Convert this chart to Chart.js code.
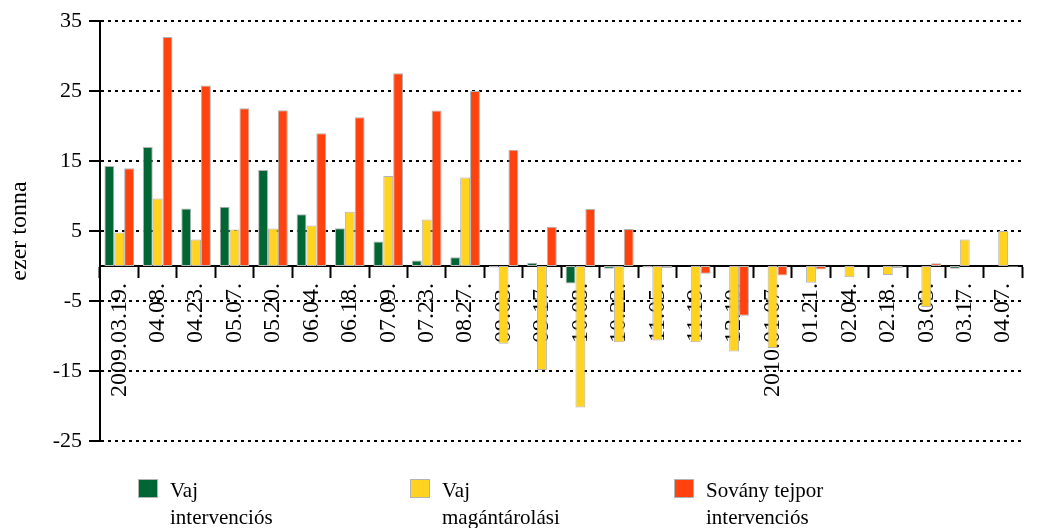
<!DOCTYPE html>
<html lang="hu">
<head>
<meta charset="utf-8">
<title>Intervenciós és magántárolási készletek</title>
<script src="https://cdn.jsdelivr.net/npm/chart.js@4.4.1/dist/chart.umd.min.js"></script>
<style>
  html, body { margin: 0; padding: 0; background: #fff; }
  #wrap { position: relative; width: 1038px; height: 528px; overflow: hidden; }
  #chart { position: absolute; left: 0; top: 0; }
  .lg { position: absolute; top: 477px; font: 21px "Liberation Serif", "Times New Roman", serif; line-height: 27px; color: #000; white-space: nowrap; }
  .lg i { position: absolute; left: -32px; top: 2px; width: 20px; height: 19px; box-sizing: border-box; border: 1px solid #b3b3b3; }
</style>
</head>
<body>
<div id="wrap">
  <canvas id="chart" width="1038" height="528"></canvas>
  <div class="lg" style="left:170px"><i style="background:#006633"></i>Vaj<br>intervenciós</div>
  <div class="lg" style="left:442px"><i style="background:#ffd320"></i>Vaj<br>magántárolási</div>
  <div class="lg" style="left:706px"><i style="background:#ff420e"></i>Sovány tejpor<br>intervenciós</div>
</div>
<script>
/* Vaj és sovány tejpor készletváltozás (ezer tonna), kéthetes bontásban */

const LABELS = [
  "2009.03.19.", "04.08.", "04.23.", "05.07.", "05.20.", "06.04.", "06.18.", "07.09.",
  "07.23.", "08.27.", "09.03.", "09.17.", "10.08.", "10.22.", "11.05.", "11.19.",
  "12.10.", "2010.01.07.", "01.21.", "02.04.", "02.18.", "03.03.", "03.17.", "04.07.",
];

// ezer tonna
const VAJ_INTERVENCIOS = [
  14.3, 17.0, 8.2, 8.45, 13.7, 7.4, 5.4, 3.5,
  0.8, 1.25, -0.2, 0.45, -2.5, -0.4, -0.2, 0,
  0, 0, 0, 0, 0, 0, -0.4, 0,
];
const VAJ_MAGANTAROLASI = [
  4.8, 9.65, 3.8, 5.2, 5.35, 5.8, 7.75, 12.85,
  6.65, 12.65, -11.1, -14.85, -20.2, -10.9, -10.65, -10.9,
  -12.2, -11.7, -2.4, -1.6, -1.3, -5.85, 3.8, 5.0,
];
const SOVANY_TEJPOR = [
  13.95, 32.7, 25.8, 22.55, 22.25, 18.95, 21.25, 27.55,
  22.2, 25.0, 16.6, 5.6, 8.15, 5.3, -0.3, -1.1,
  -7.1, -1.35, -0.5, 0, -0.3, 0.4, 0, -0.1,
];

const Y_MIN = -25;
const Y_MAX = 35;
const Y_STEP = 10;

const FONT = "'Liberation Serif', 'Times New Roman', serif";
const ink = "#000";

const barStyle = (color) => ({
  backgroundColor: color,
  borderColor: "#b3b3b3",
  borderWidth: 1,
  borderSkipped: false,
});

new Chart(document.getElementById("chart"), {
  type: "bar",
  data: {
    labels: LABELS,
    datasets: [
      { label: "Vaj intervenciós", data: VAJ_INTERVENCIOS, ...barStyle("#006633") },
      { label: "Vaj magántárolási", data: VAJ_MAGANTAROLASI, ...barStyle("#ffd320") },
      { label: "Sovány tejpor intervenciós", data: SOVANY_TEJPOR, ...barStyle("#ff420e") },
    ],
  },
  options: {
    responsive: false,
    animation: false,
    layout: { padding: { top: 21, right: 2, bottom: 87, left: 0 } },
    datasets: { bar: { categoryPercentage: 0.77, barPercentage: 1 } },
    plugins: { legend: { display: false }, tooltip: { enabled: false } },
    scales: {
      x: {
        position: { y: 0 }, // a kategóriatengely a nulla vonalon fut
        z: 1,
        grid: { drawOnChartArea: false, offset: true, tickLength: 11, tickWidth: 2, tickColor: ink },
        border: { color: ink, width: 2 },
        ticks: {
          color: ink,
          font: { family: FONT, size: 24 },
          minRotation: 90,
          maxRotation: 90,
          autoSkip: false,
          padding: 6,
        },
      },
      y: {
        min: Y_MIN,
        max: Y_MAX,
        afterFit: (s) => { s.width = 100; },
        ticks: { stepSize: Y_STEP, color: ink, font: { family: FONT, size: 22 }, padding: 7 },
        grid: { color: ink, lineWidth: 2, tickLength: 11, tickWidth: 2, tickColor: ink, tickBorderDash: [] },
        border: { color: ink, width: 2, dash: [3, 4] },
        title: { display: true, text: "ezer tonna", color: ink, font: { family: FONT, size: 24 }, padding: { top: 5, bottom: 0 } },
      },
    },
  },
});
</script>
</body>
</html>
